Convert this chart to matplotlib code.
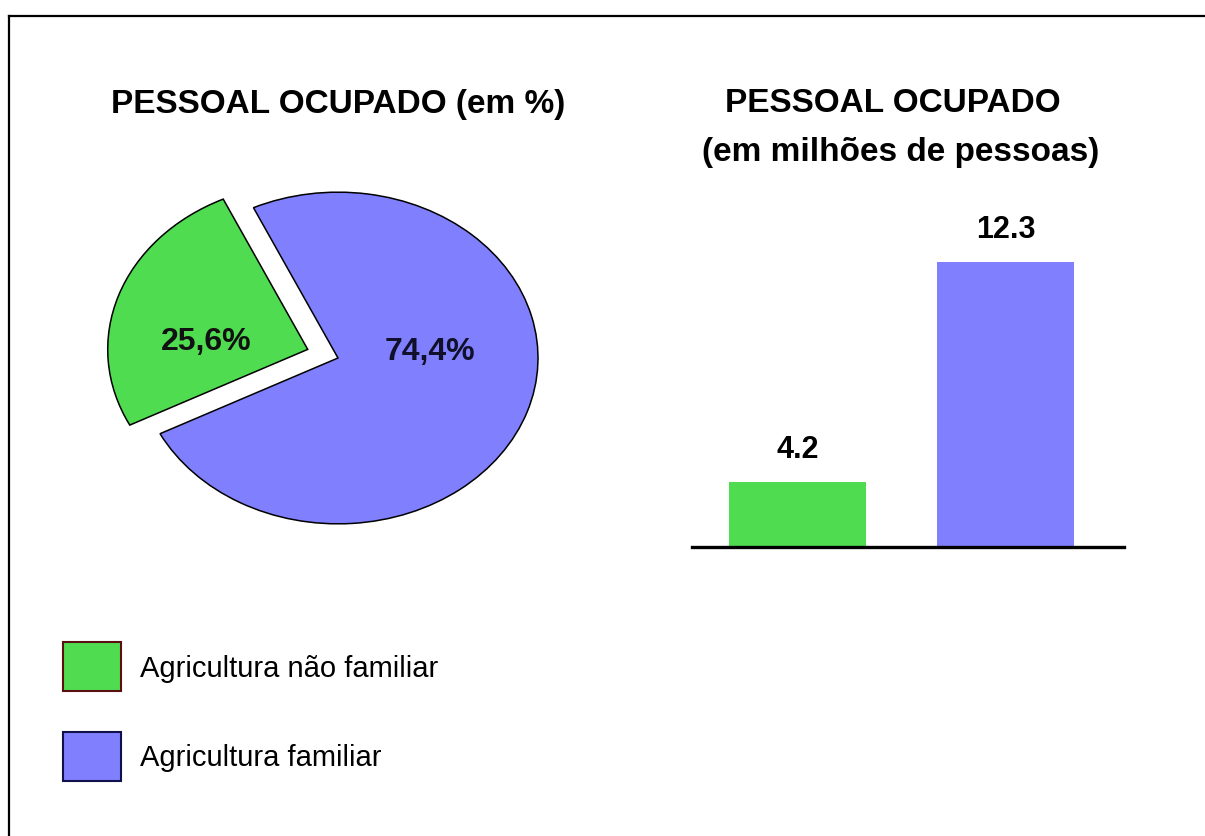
import matplotlib.pyplot as plt
from matplotlib.patches import Patch
from matplotlib.lines import Line2D

plt.rcParams['font.family'] = ['Liberation Sans', 'DejaVu Sans']

# data
categories = ["Agricultura não familiar", "Agricultura familiar"]
pct_values = [25.6, 74.4]
people_millions = [4.2, 12.3]

green = "#50dc50"
blue = "#8080ff"
colors = [green, blue]
legend_edges = ["#5a1010", "#10104a"]

W, H = 1205, 837
fig = plt.figure(figsize=(W / 100, H / 100), dpi=100)
fig.patch.set_facecolor("white")


def fbox(left, top, width, height):
    # pixel box (from top-left) -> figure fraction rect
    return [left / W, 1 - (top + height) / H, width / W, height / H]


# frame lines on left and top
fig.add_artist(Line2D([9 / W, 9 / W], [0, 1 - 17 / H], color="black", lw=1.6))
fig.add_artist(Line2D([9 / W, 1], [1 - 17 / H, 1 - 17 / H], color="black", lw=1.6))

# pie, stretched into an ellipse
ax_pie = fig.add_axes(fbox(98, 160, 480, 398))
wedges, _, pcts = ax_pie.pie(
    pct_values,
    colors=colors,
    startangle=115,
    explode=[0.16, 0],
    autopct=lambda p: f"{p:.1f}%".replace(".", ","),
    pctdistance=0.5,
    wedgeprops=dict(edgecolor="black", linewidth=1.1),
    textprops=dict(fontsize=23, fontweight="bold", color="#111111"),
)
ax_pie.set_aspect("auto")
ax_pie.set_xlim(-1.2, 1.2)
ax_pie.set_ylim(-1.2, 1.2)
ax_pie.axis("off")
pcts[0].set_position((-0.66, 0.1))
pcts[1].set_position((0.46, 0.04))
pcts[1].set_color("#10102a")

fig.text(338 / W, 1 - 104 / H, "PESSOAL OCUPADO (em %)", ha="center", va="center",
         fontsize=24, fontweight="bold")

# bars
ax_bar = fig.add_axes(fbox(692, 180, 432, 368))
bars = ax_bar.bar([0, 1], people_millions, width=0.66, color=colors)
ax_bar.set_xlim(-0.51, 1.57)
ax_bar.set_ylim(1.81, 15.36)
ax_bar.bar_label(bars, fmt="%.1f", padding=13, fontsize=22, fontweight="bold")
for side in ["top", "right", "left"]:
    ax_bar.spines[side].set_visible(False)
ax_bar.spines["bottom"].set_linewidth(2.4)
ax_bar.set_xticks([])
ax_bar.set_yticks([])
ax_bar.patch.set_alpha(0)

fig.text(893 / W, 1 - 104 / H, "PESSOAL OCUPADO", ha="center", va="center",
         fontsize=24, fontweight="bold")
fig.text(901 / W, 1 - 152 / H, "(em milhões de pessoas)", ha="center", va="center",
         fontsize=24, fontweight="bold")

# legend
handles = [Patch(facecolor=c, edgecolor=e, linewidth=1.5) for c, e in zip(colors, legend_edges)]
fig.legend(handles, categories, loc="upper left", bbox_to_anchor=(63 / W, 1 - 643 / H),
           frameon=False, fontsize=21, handlelength=1.99, handleheight=2.2,
           handletextpad=0.65, labelspacing=1.4, borderpad=0, borderaxespad=0)

fig.savefig("out.png", dpi=100, facecolor="white")
